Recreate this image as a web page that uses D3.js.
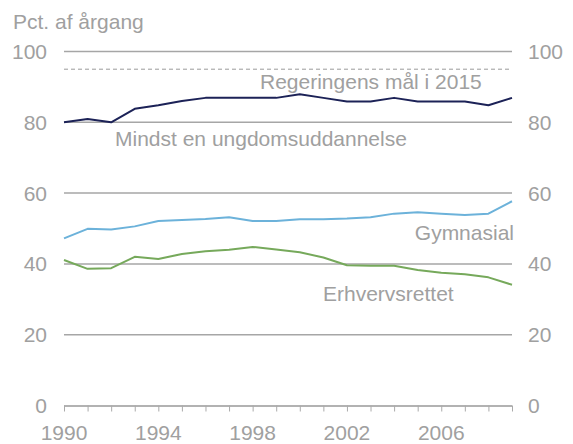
<!DOCTYPE html>
<html><head><meta charset="utf-8">
<script src="https://cdn.jsdelivr.net/npm/d3@7"></script>
<style>
html,body{margin:0;padding:0;background:#fff;}
svg{display:block;font-family:"Liberation Sans",Arial,sans-serif;}
</style></head>
<body><svg id="c" width="573" height="444"></svg>
<script>
const years = d3.range(1990, 2010);
const mindst = [80.0,80.9,80.0,83.8,84.8,86.0,86.9,86.9,86.9,86.9,87.9,86.9,85.9,85.9,86.9,85.9,85.9,85.9,84.8,86.9];
const gymnasial = [47.2,49.9,49.7,50.6,52.1,52.4,52.7,53.2,52.1,52.1,52.6,52.6,52.8,53.2,54.2,54.6,54.2,53.8,54.2,57.7];
const erhverv = [41.1,38.6,38.8,42.0,41.4,42.8,43.6,44.0,44.8,44.1,43.3,41.8,39.6,39.5,39.5,38.3,37.5,37.1,36.2,34.1];
const goal = 95;
const yTicks = [0,20,40,60,80,100];
const xLabels = [1990,1994,1998,2002,2006];
const seriesNames = ["Mindst en ungdomsuddannelse","Gymnasial","Erhvervsrettet"];
const goalLabel = "Regeringens mål i 2015";
const yTitle = "Pct. af årgang";

const svg = d3.select("#c");
const x = d3.scaleLinear().domain([1990, 2009]).range([64, 512]);
const y = d3.scaleLinear().domain([0, 100]).range([405.5, 51.5]);
const grey = "#a0a0a0";
const fs = 21;

// gridlines
svg.append("g").selectAll("line").data(yTicks.filter(d => d > 0)).join("line")
  .attr("x1", x(1990)).attr("x2", x(2009))
  .attr("y1", d => y(d)).attr("y2", d => y(d))
  .attr("stroke", "#a6a6a6").attr("stroke-width", 1.5);

// goal dashed line
svg.append("line")
  .attr("x1", x(1990)).attr("x2", x(2009))
  .attr("y1", y(goal)).attr("y2", y(goal))
  .attr("stroke", "#9a9a9a").attr("stroke-width", 1).attr("stroke-dasharray", "4,3");

// x axis
const xAxis = d3.axisBottom(x).tickValues(years).tickSize(6).tickFormat("");
const gx = svg.append("g").attr("transform", `translate(0,${y(0)})`).call(xAxis);
gx.select(".domain").attr("stroke", "#999").attr("stroke-width", 1.5).attr("d", `M${x(1990)},0.5H${x(2009)}`);
gx.selectAll(".tick line").attr("stroke", "#aaa").attr("stroke-width", 1);
svg.append("g").selectAll("text").data(xLabels).join("text")
  .attr("x", d => x(d)).attr("y", 440)
  .attr("text-anchor", "middle").attr("fill", grey).attr("font-size", fs)
  .text(d => d);

// y axis labels left & right
const yl = d3.axisLeft(y).tickValues(yTicks).tickSize(0).tickPadding(17);
const gl = svg.append("g").attr("transform", `translate(${x(1990)},0)`).call(yl);
const yr = d3.axisRight(y).tickValues(yTicks).tickSize(0).tickPadding(16);
const gr = svg.append("g").attr("transform", `translate(${x(2009)},0)`).call(yr);
[gl, gr].forEach(g => {
  g.select(".domain").remove();
  g.selectAll("text").attr("fill", grey).attr("font-size", fs)
    .attr("font-family", '"Liberation Sans",Arial,sans-serif').attr("dy", "0.33em");
});

// lines
const line = d3.line().x((d, i) => x(years[i])).y(d => y(d));
const series = [
  {vals: mindst, color: "#1c2257"},
  {vals: gymnasial, color: "#6cb2da"},
  {vals: erhverv, color: "#76a95b"}
];
svg.append("g").selectAll("path").data(series).join("path")
  .attr("d", d => line(d.vals)).attr("fill", "none")
  .attr("stroke", d => d.color).attr("stroke-width", 2).attr("stroke-linejoin", "round");

// text labels
const labels = [
  {t: yTitle, x: 13, y: 29, a: "start"},
  {t: goalLabel, x: 260, y: 89, a: "start"},
  {t: seriesNames[0], x: 115, y: 146, a: "start"},
  {t: seriesNames[1], x: 514, y: 240, a: "end"},
  {t: seriesNames[2], x: 323, y: 301, a: "start"}
];
svg.append("g").selectAll("text").data(labels).join("text")
  .attr("x", d => d.x).attr("y", d => d.y).attr("text-anchor", d => d.a)
  .attr("fill", grey).attr("font-size", fs).text(d => d.t);
</script></body></html>
